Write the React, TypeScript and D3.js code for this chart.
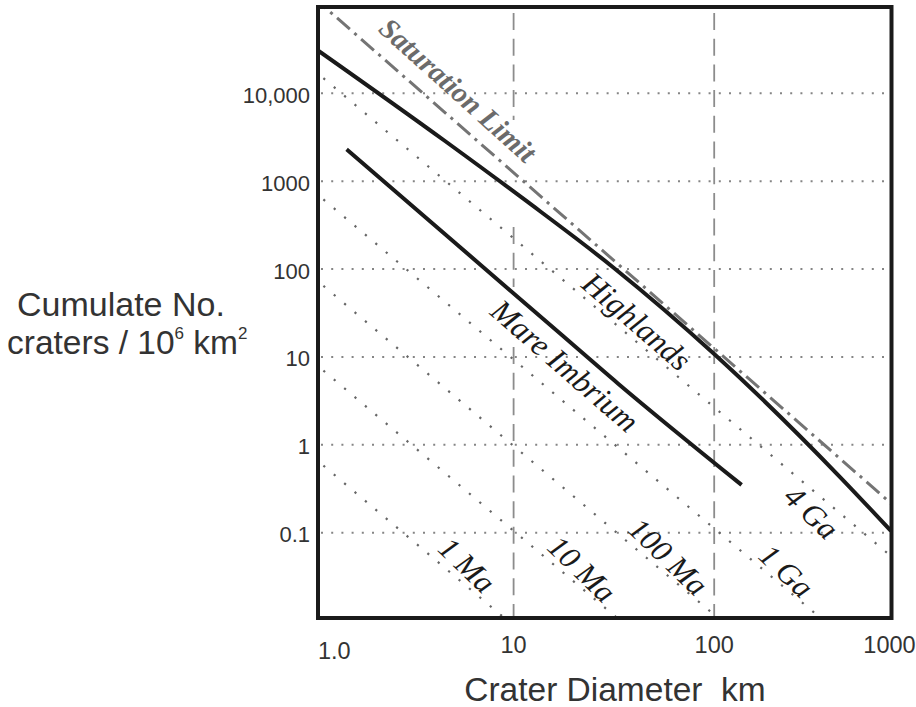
import React from 'react';
import * as d3 from 'd3';

const W = 916;
const H = 707;

// ---- axis ticks ----
const xTickValues = [1, 10, 100, 1000];
const xTickLabels = ['1.0', '10', '100', '1000'];
const yTickValues = [10000, 1000, 100, 10, 1, 0.1];
const yTickLabels = ['10,000', '1000', '100', '10', '1', '0.1'];

// vertical dashed reference lines (diameter) and their visible N ranges
const vGridD = [10, 100];
const vGridSegments = [
  [[1e5, 4960], [301, 62.5], [13, 0.005]],
  [[1e5, 0.005]],
];

// ---- curves: crater diameter (km) vs cumulative N per 10^6 km^2 ----
const highlandsD = [1.0, 4.55, 11.4, 31.3, 100, 424, 760];
const highlandsN = [33700, 2865, 611, 105, 10.8, 0.43, 0.105];

const mareD = [1.47, 5.0, 17.0, 33.1, 137];
const mareN = [2300, 207, 18.6, 5.0, 0.35];

const saturationD = [1, 1000];
const saturationN = [125000, 0.125];

// isochrons: N at D = 1 km and D = 1000 km
const isochronNames = ['1 Ma', '10 Ma', '100 Ma', '1 Ga', '4 Ga'];
const isochronN1 = [0.73, 8.8, 81, 780, 18700];
const isochronN1000 = [1.25e-6, 1.5e-5, 1.4e-4, 1.34e-3, 0.032];

// label anchor points (data space)
const isochronLabelD = [5.85, 21.9, 59.0, 229, 305];
const isochronLabelN = [0.0429, 0.0386, 0.0533, 0.0366, 0.17];

const curveLabels = ['Saturation Limit', 'Highlands', 'Mare Imbrium'];
const curveLabelD = [5.28, 41.0, 18.0];
const curveLabelN = [10900, 25.3, 7.9];

export default function App() {
  const x = d3.scaleLog().domain([1, 1000]).range([313, 914.8]);
  const y = d3.scaleLog().domain([0.01, 1e5]).range([620.6, 5.4]);

  const fL = 318, fR = 891.5, fT = 7, fB = 618;

  const line = d3
    .line<[number, number]>()
    .x((d) => x(d[0]))
    .y((d) => y(d[1]));
  const smooth = d3
    .line<[number, number]>()
    .x((d) => x(d[0]))
    .y((d) => y(d[1]))
    .curve(d3.curveMonotoneX);

  const highlands = highlandsD.map((d, i) => [d, highlandsN[i]] as [number, number]);
  const mare = mareD.map((d, i) => [d, mareN[i]] as [number, number]);
  const sat = saturationD.map((d, i) => [d, saturationN[i]] as [number, number]);

  const serif = '"Liberation Serif", "DejaVu Serif", serif';
  const sans = '"Liberation Sans", Arial, sans-serif';

  return (
    <svg
      width={W}
      height={H}
      style={{ position: 'absolute', left: 0, top: 0, background: '#fff' }}
    >
      <defs>
        <clipPath id="plot">
          <rect x={fL} y={fT} width={fR - fL} height={fB - fT} />
        </clipPath>
      </defs>
      <rect x={0} y={0} width={W} height={H} fill="#fff" />

      <g clipPath="url(#plot)">
        {/* horizontal dotted grid */}
        {yTickValues.map((v) => (
          <line
            key={'h' + v}
            x1={fL + 3}
            x2={fR}
            y1={y(v)}
            y2={y(v)}
            stroke="#858585"
            strokeWidth={2}
            strokeDasharray="2,8.2"
          />
        ))}
        {/* vertical dashed grid */}
        {vGridD.map((d, i) =>
          vGridSegments[i].map((s, j) => (
            <line
              key={'v' + d + '_' + j}
              x1={x(d)}
              x2={x(d)}
              y1={Math.max(y(s[0]), fT + 6)}
              y2={y(s[1])}
              stroke="#8c8c8c"
              strokeWidth={1.8}
              strokeDasharray="17,8.7"
            />
          ))
        )}
        {/* isochrons */}
        {isochronNames.map((n, i) => (
          <path
            key={'iso' + n}
            d={line([
              [1, isochronN1[i]],
              [1000, isochronN1000[i]],
            ]) as string}
            fill="none"
            stroke="#666"
            strokeWidth={2.2}
            strokeDasharray="2.2,11.4"
          />
        ))}
        {/* saturation limit */}
        <path
          d={line(sat) as string}
          fill="none"
          stroke="#747474"
          strokeWidth={3}
          strokeDasharray="17,6,3,6"
        />
        {/* highlands */}
        <path d={smooth(highlands) as string} fill="none" stroke="#1a1a1a" strokeWidth={4} />
        {/* mare */}
        <path d={smooth(mare) as string} fill="none" stroke="#1a1a1a" strokeWidth={4} />

        {/* labels */}
        {isochronNames.map((n, i) => (
          <text
            key={'il' + n}
            transform={`translate(${x(isochronLabelD[i])},${y(isochronLabelN[i])}) rotate(44)`}
            textAnchor="middle"
            dominantBaseline="central"
            fontFamily={serif}
            fontStyle="italic"
            fontSize={31}
            fill="#1a1a1a"
          >
            {n}
          </text>
        ))}
        {curveLabels.map((n, i) => (
          <text
            key={'cl' + n}
            transform={`translate(${x(curveLabelD[i])},${y(curveLabelN[i])}) rotate(${i === 0 ? 42 : 41})`}
            textAnchor="middle"
            dominantBaseline="central"
            fontFamily={serif}
            fontStyle="italic"
            fontWeight={i === 0 ? 'bold' : 'normal'}
            fontSize={i === 0 ? 29 : 31.5}
            fill={i === 0 ? '#6b6b6b' : '#1a1a1a'}
          >
            {n}
          </text>
        ))}
      </g>

      {/* frame */}
      <rect
        x={fL}
        y={fT}
        width={fR - fL}
        height={fB - fT}
        fill="none"
        stroke="#1a1a1a"
        strokeWidth={4}
      />

      {/* y tick labels */}
      {yTickValues.map((v, i) => (
        <text
          key={'yt' + v}
          x={310}
          y={y(v) + 2}
          textAnchor="end"
          dominantBaseline="central"
          fontFamily={sans}
          fontSize={22}
          fill="#333"
        >
          {yTickLabels[i]}
        </text>
      ))}

      {/* x tick labels */}
      {xTickValues.map((v, i) => {
        let px = x(v);
        let anchor: 'start' | 'middle' | 'end' = 'middle';
        let py = 653;
        if (i === 0) {
          px = fL;
          anchor = 'start';
          py = 659;
        }
        if (i === xTickValues.length - 1) {
          px = fR - 2;
        }
        return (
          <text
            key={'xt' + v}
            x={px}
            y={py}
            textAnchor={anchor}
            fontFamily={sans}
            fontSize={23.5}
            fill="#333"
          >
            {xTickLabels[i]}
          </text>
        );
      })}

      {/* axis titles */}
      <text
        x={615}
        y={701}
        textAnchor="middle"
        fontFamily={sans}
        fontSize={33.5}
        fill="#333"
        style={{ whiteSpace: 'pre' }}
      >
        {'Crater Diameter  km'}
      </text>
      <text x={17} y={316} fontFamily={sans} fontSize={34} fill="#333">
        Cumulate No.
      </text>
      <text x={7} y={354} fontFamily={sans} fontSize={33.5} fill="#333" style={{ whiteSpace: 'pre' }}>
        {'craters / 10'}
        <tspan fontSize={17} dy={-15}>6</tspan>
        <tspan dy={15}>{' km'}</tspan>
        <tspan fontSize={17} dy={-15}>2</tspan>
      </text>
    </svg>
  );
}
